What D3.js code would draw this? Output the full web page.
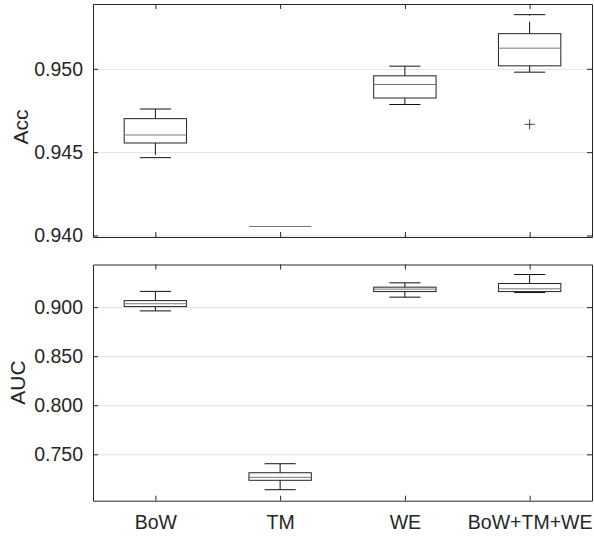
<!DOCTYPE html>
<html>
<head>
<meta charset="utf-8">
<script src="https://cdn.jsdelivr.net/npm/d3@7"></script>
<style>
  body { margin: 0; background: #fff; }
  text { font-family: "Liberation Sans", Arial, sans-serif; fill: #262626; }
</style>
</head>
<body>
<div class="chart"></div>
<script>
// categories on the x axis
var categories = ["BoW", "TM", "WE", "BoW+TM+WE"];

// Acc: whisker low, q1, median, q3, whisker high
var accLow  = [0.94467, 0.94054, 0.94786, 0.94980];
var accQ1   = [0.94555, 0.94054, 0.94825, 0.95018];
var accMed  = [0.94603, 0.94054, 0.94906, 0.95124];
var accQ3   = [0.94701, 0.94054, 0.94958, 0.95211];
var accHigh = [0.94759, 0.94054, 0.95016, 0.95325];
var accOutliers = [{cat: 3, value: 0.94667}];
var accTicks = [0.940, 0.945, 0.950];
var accDomain = [0.93991, 0.95389];

// AUC
var aucLow  = [0.8962, 0.7139, 0.9102, 0.9149];
var aucQ1   = [0.9006, 0.7235, 0.9159, 0.9159];
var aucMed  = [0.9035, 0.7265, 0.9184, 0.9187];
var aucQ3   = [0.9067, 0.7312, 0.9204, 0.9241];
var aucHigh = [0.9161, 0.7404, 0.9248, 0.9333];
var aucOutliers = [];
var aucTicks = [0.750, 0.800, 0.850, 0.900];
var aucDomain = [0.7027, 0.9435];

var W = 594, H = 537;
var left = 93, right = 592;
var fontSize = "19.5px";

var svg = d3.select(".chart").append("svg")
  .attr("width", W)
  .attr("height", H);

var xScale = d3.scaleLinear()
  .domain([0.5, 4.5])
  .range([left, right]);

function drawPanel(opts) {
  var top = opts.top, bottom = opts.bottom;
  var width = right - left;

  var yScale = d3.scaleLinear()
    .domain(opts.domain)
    .range([bottom, top]);

  var g = svg.append("g");

  // grid
  g.append("g")
    .attr("transform", "translate(" + left + ",0)")
    .call(d3.axisLeft(yScale).tickValues(opts.ticks).tickSize(-width).tickFormat(""))
    .call(function(s) {
      s.select(".domain").remove();
      s.selectAll("line").attr("stroke", "#e3e3e3");
    });

  // boxes
  var stats = categories.map(function(c, i) {
    return {i: i + 1, lo: opts.low[i], q1: opts.q1[i], med: opts.med[i], q3: opts.q3[i], hi: opts.high[i]};
  });

  var boxHalf = 0.25, capHalf = 0.125;
  var boxes = g.selectAll(".box").data(stats).enter().append("g").attr("class", "box");

  // whiskers (dashed, going out from the box)
  boxes.append("line")
    .attr("x1", function(d) { return xScale(d.i); })
    .attr("x2", function(d) { return xScale(d.i); })
    .attr("y1", function(d) { return yScale(d.q3); })
    .attr("y2", function(d) { return yScale(d.hi); })
    .attr("stroke", "#111").attr("stroke-dasharray", "12,6");
  boxes.append("line")
    .attr("x1", function(d) { return xScale(d.i); })
    .attr("x2", function(d) { return xScale(d.i); })
    .attr("y1", function(d) { return yScale(d.q1); })
    .attr("y2", function(d) { return yScale(d.lo); })
    .attr("stroke", "#111").attr("stroke-dasharray", "12,6");

  // caps
  ["hi", "lo"].forEach(function(k) {
    boxes.append("line")
      .attr("x1", function(d) { return xScale(d.i - capHalf); })
      .attr("x2", function(d) { return xScale(d.i + capHalf); })
      .attr("y1", function(d) { return yScale(d[k]); })
      .attr("y2", function(d) { return yScale(d[k]); })
      .attr("stroke", "#111");
  });

  boxes.append("rect")
    .attr("x", function(d) { return xScale(d.i - boxHalf); })
    .attr("width", function(d) { return xScale(d.i + boxHalf) - xScale(d.i - boxHalf); })
    .attr("y", function(d) { return yScale(d.q3); })
    .attr("height", function(d) { return yScale(d.q1) - yScale(d.q3); })
    .attr("fill", "none")
    .attr("stroke", "#222");

  boxes.append("line")
    .attr("x1", function(d) { return xScale(d.i - boxHalf); })
    .attr("x2", function(d) { return xScale(d.i + boxHalf); })
    .attr("y1", function(d) { return yScale(d.med); })
    .attr("y2", function(d) { return yScale(d.med); })
    .attr("stroke", "#777");

  // outliers
  g.selectAll(".outlier").data(opts.outliers).enter().append("path")
    .attr("class", "outlier")
    .attr("transform", function(d) { return "translate(" + xScale(d.cat + 1) + "," + yScale(d.value) + ")"; })
    .attr("d", "M-5,0H5M0,-5V5")
    .attr("stroke", "#444")
    .attr("fill", "none");

  // axes (ticks inside)
  var yLeft = d3.axisLeft(yScale).tickValues(opts.ticks).tickSizeInner(-5).tickSizeOuter(0)
    .tickPadding(10).tickFormat(d3.format(".3f"));
  g.append("g")
    .attr("transform", "translate(" + left + ",0)")
    .call(yLeft)
    .call(function(s) {
      s.selectAll("text").attr("font-size", fontSize).style("fill", "#262626");
      s.selectAll("line, path").attr("stroke", "#262626");
    });

  g.append("g")
    .attr("transform", "translate(" + right + ",0)")
    .call(d3.axisRight(yScale).tickValues(opts.ticks).tickSizeInner(-5).tickSizeOuter(0).tickFormat(""))
    .call(function(s) { s.selectAll("line, path").attr("stroke", "#262626"); });

  var xBottom = d3.axisBottom(xScale).tickValues([1, 2, 3, 4]).tickSizeInner(-5).tickSizeOuter(0)
    .tickPadding(14)
    .tickFormat(function(d) { return opts.showLabels ? categories[d - 1] : ""; });
  g.append("g")
    .attr("transform", "translate(0," + bottom + ")")
    .call(xBottom)
    .call(function(s) {
      s.selectAll("text").attr("font-size", fontSize).style("fill", "#262626");
      s.selectAll("line, path").attr("stroke", "#262626");
    });

  g.append("g")
    .attr("transform", "translate(0," + top + ")")
    .call(d3.axisTop(xScale).tickValues([1, 2, 3, 4]).tickSizeInner(-5).tickSizeOuter(0).tickFormat(""))
    .call(function(s) { s.selectAll("line, path").attr("stroke", "#262626"); });

  // y label
  g.append("text")
    .text(opts.label)
    .attr("transform", "translate(" + opts.labelX + "," + opts.labelY + ") rotate(-90)")
    .attr("text-anchor", "middle")
    .attr("dominant-baseline", "central")
    .attr("font-size", "21px");
}

drawPanel({
  top: 4, bottom: 237, domain: accDomain, ticks: accTicks,
  low: accLow, q1: accQ1, med: accMed, q3: accQ3, high: accHigh,
  outliers: accOutliers, label: "Acc", labelX: 20.5, labelY: 127, showLabels: false
});

drawPanel({
  top: 264.5, bottom: 500.7, domain: aucDomain, ticks: aucTicks,
  low: aucLow, q1: aucQ1, med: aucMed, q3: aucQ3, high: aucHigh,
  outliers: aucOutliers, label: "AUC", labelX: 17, labelY: 382.5, showLabels: true
});
</script>
</body>
</html>
